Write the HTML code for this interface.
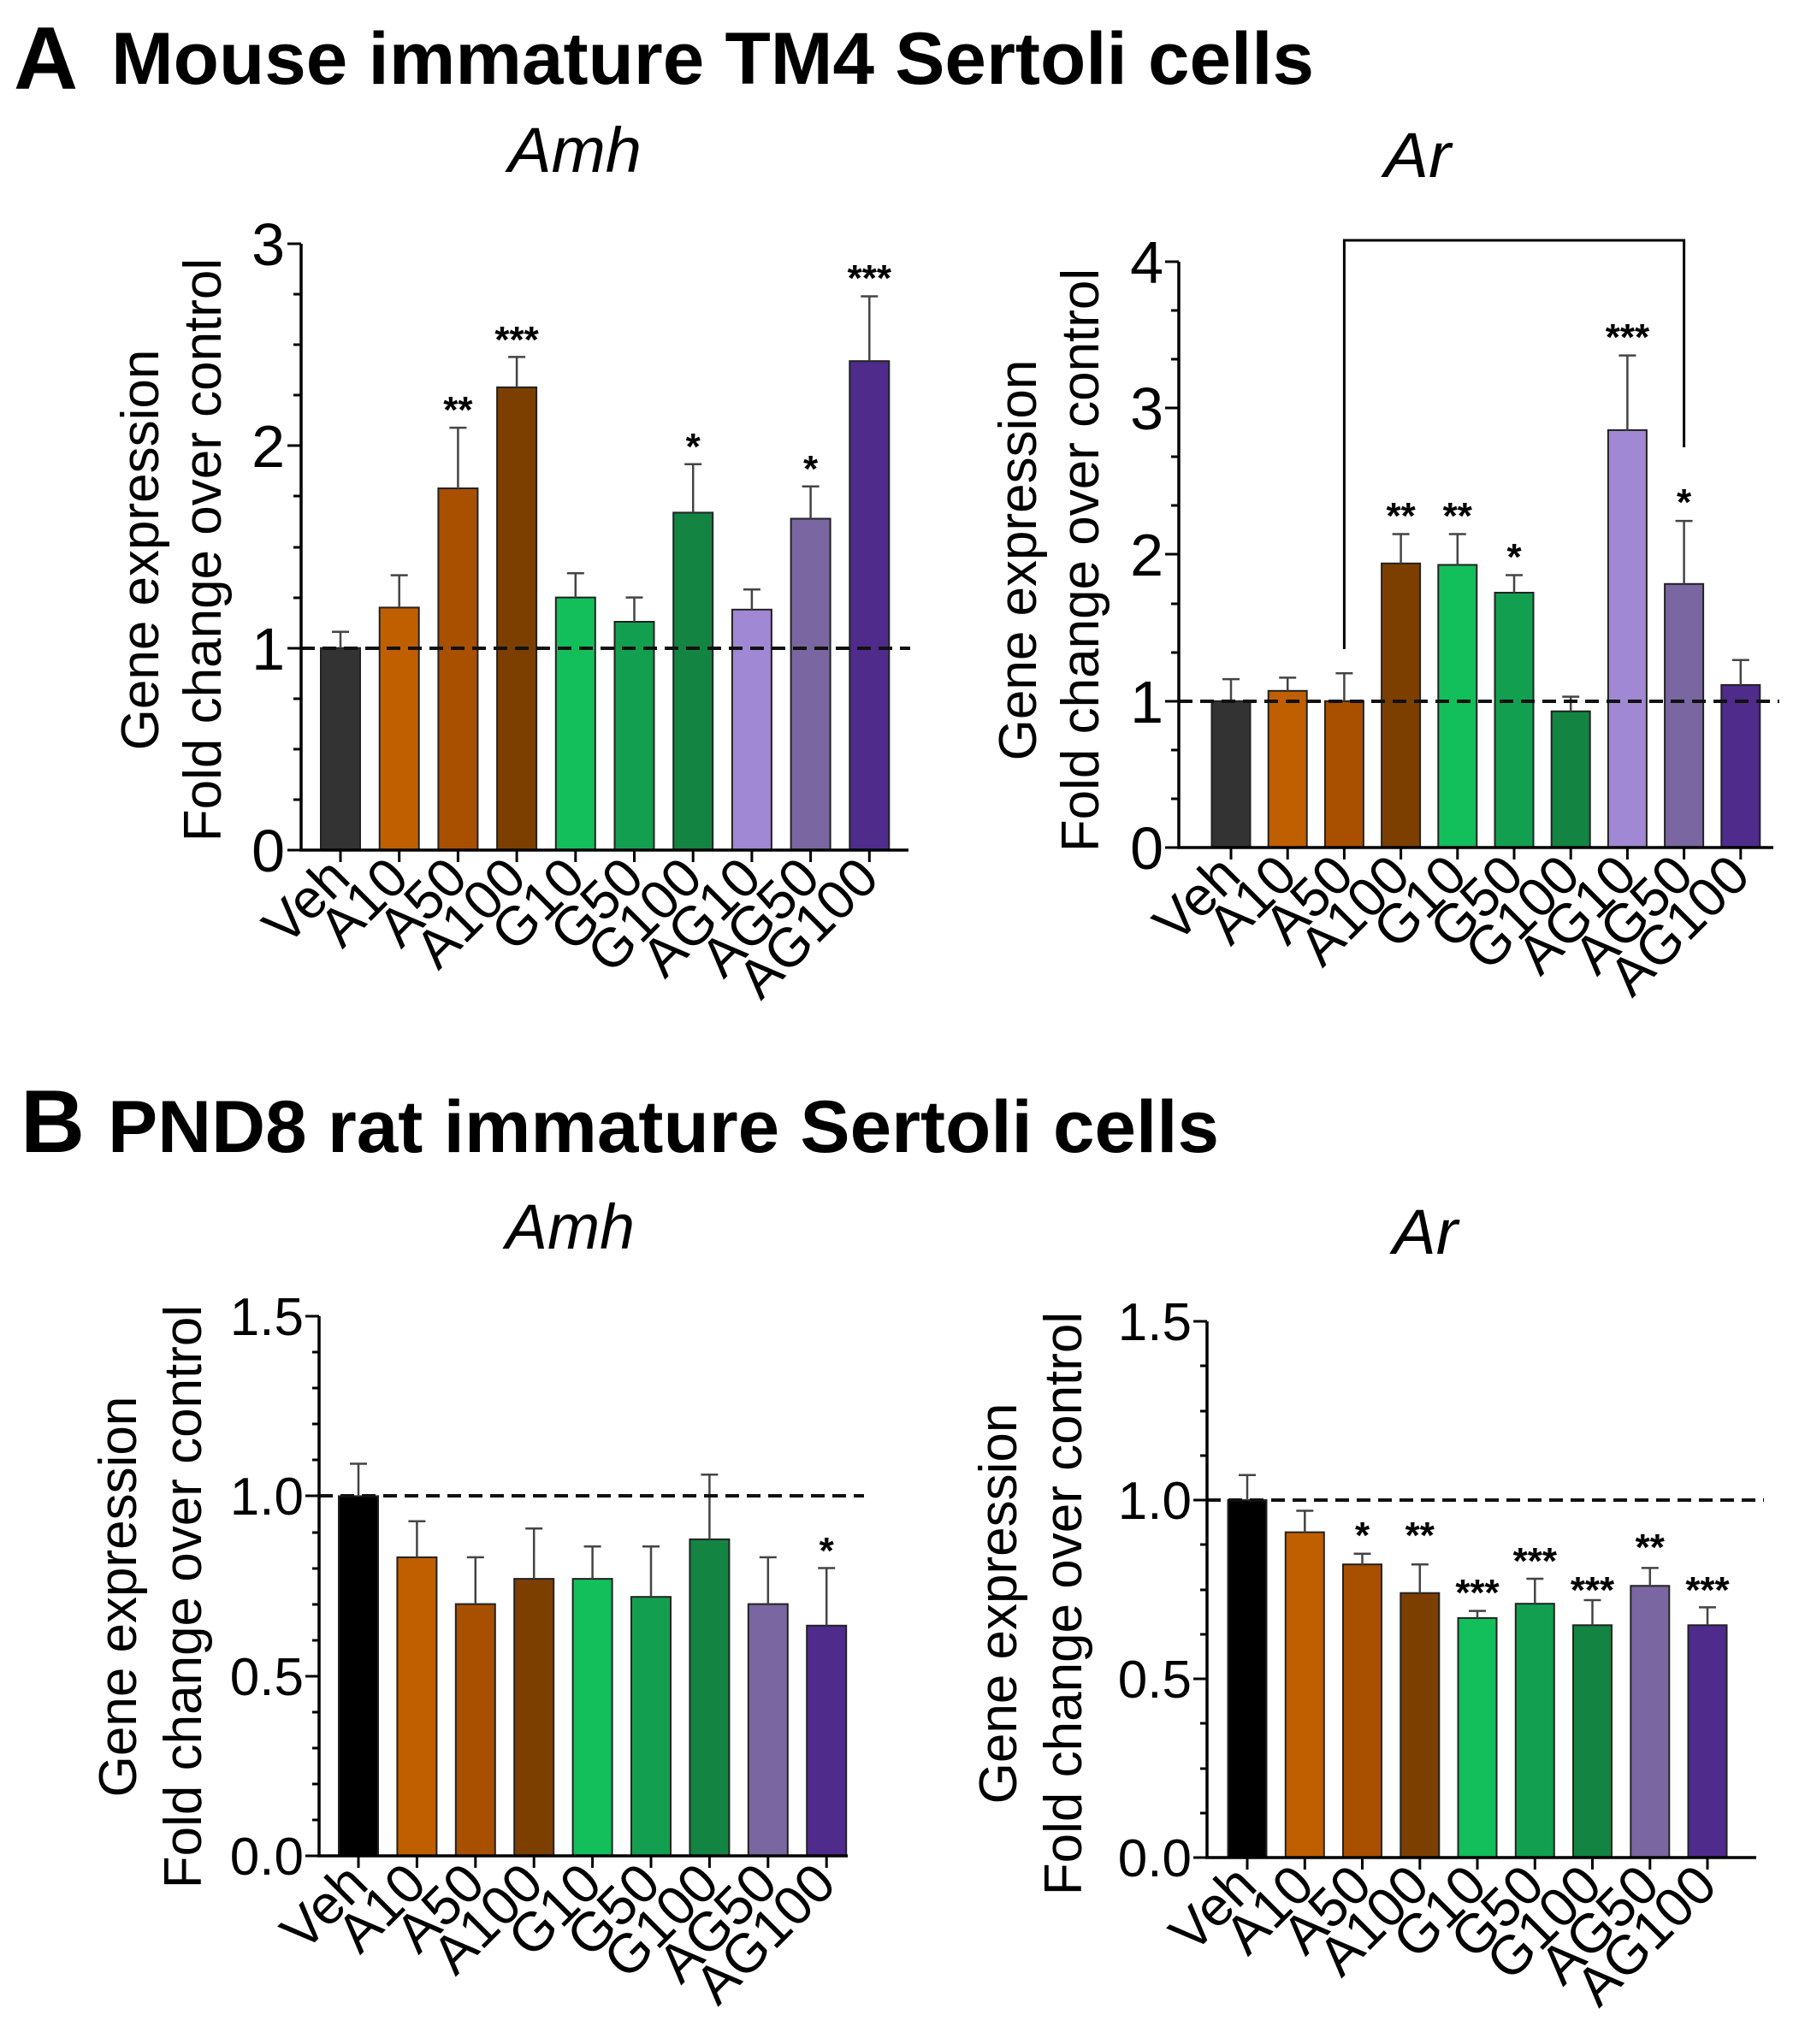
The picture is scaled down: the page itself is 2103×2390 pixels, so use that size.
<!DOCTYPE html>
<html><head><meta charset="utf-8"><style>
html,body{margin:0;padding:0;background:#fff}
svg{display:block}
text{font-family:"Liberation Sans",Arial,sans-serif;fill:#000}
.t{font-size:62px}
.ta{font-size:70px}
.ax{font-size:62px}
.xl{font-size:64px}
.st{font-size:44px;font-weight:bold}
.bar{stroke:#222;stroke-width:2}
.eb{stroke:#444;stroke-width:2.5;fill:none}
.axl{stroke:#000;stroke-width:3.5;fill:none}
.tk{stroke:#000;stroke-width:3}
.dash{stroke:#111;stroke-width:4;stroke-dasharray:16 9}
</style></head><body>
<svg width="2103" height="2390" viewBox="0 0 2103 2390" xmlns="http://www.w3.org/2000/svg">
<text x="16" y="104" style="font-size:104px;font-weight:bold">A</text>
<text x="130" y="98" style="font-size:86px;font-weight:bold" textLength="1406" lengthAdjust="spacingAndGlyphs">Mouse immature TM4 Sertoli cells</text>
<text x="24" y="1347" style="font-size:104px;font-weight:bold">B</text>
<text x="126" y="1347" style="font-size:86px;font-weight:bold" textLength="1299" lengthAdjust="spacingAndGlyphs">PND8 rat immature Sertoli cells</text>
<text x="594" y="201" style="font-size:74px;font-style:italic" textLength="156" lengthAdjust="spacingAndGlyphs">Amh</text>
<text x="1618" y="207" style="font-size:74px;font-style:italic" textLength="78" lengthAdjust="spacingAndGlyphs">Ar</text>
<text x="591" y="1460" style="font-size:74px;font-style:italic" textLength="151" lengthAdjust="spacingAndGlyphs">Amh</text>
<text x="1628" y="1466" style="font-size:74px;font-style:italic" textLength="76" lengthAdjust="spacingAndGlyphs">Ar</text>

<!-- ============ Panel A Amh ============ -->
<g>
<text class="ax" text-anchor="middle" transform="translate(185,643) rotate(-90)">Gene expression</text>
<text class="ax" text-anchor="middle" transform="translate(258,643) rotate(-90)">Fold change over control</text>
<text class="ta" text-anchor="end" x="333" y="1019">0</text>
<text class="ta" text-anchor="end" x="333" y="783">1</text>
<text class="ta" text-anchor="end" x="333" y="546">2</text>
<text class="ta" text-anchor="end" x="333" y="310">3</text>
<path class="tk" d="M336 994H352M336 758H352M336 521H352M336 285H352M343 935H352M343 876H352M343 817H352M343 699H352M343 640H352M343 580H352M343 462H352M343 403H352M343 344H352"/>
<rect class="bar" x="375" y="757.7" width="46" height="236.3" fill="#333333"/>
<rect class="bar" x="443.7" y="710.4" width="46" height="283.6" fill="#c05f00"/>
<rect class="bar" x="512.4" y="571" width="46" height="423" fill="#a85000"/>
<rect class="bar" x="581.1" y="452.9" width="46" height="541.1" fill="#7d3f00"/>
<rect class="bar" x="649.8" y="698.6" width="46" height="295.4" fill="#13bf5b"/>
<rect class="bar" x="718.5" y="727" width="46" height="267" fill="#12a050"/>
<rect class="bar" x="787.2" y="599.4" width="46" height="394.6" fill="#138442"/>
<rect class="bar" x="855.9" y="712.8" width="46" height="281.2" fill="#a088d4"/>
<rect class="bar" x="924.6" y="606.5" width="46" height="387.5" fill="#7a66a0"/>
<rect class="bar" x="993.3" y="422.2" width="46" height="571.8" fill="#4f2b8c"/>
<path class="eb" d="M398 757.7V738.8M388 738.8H408 M466.7 710.4V672.6M456.7 672.6H476.7 M535.4 571V500.1M525.4 500.1H545.4 M604.1 452.9V417.4M594.1 417.4H614.1 M672.8 698.6V670.3M662.8 670.3H682.8 M741.5 727V698.6M731.5 698.6H751.5 M810.2 599.4V542.7M800.2 542.7H820.2 M878.9 712.8V689.2M868.9 689.2H888.9 M947.6 606.5V568.7M937.6 568.7H957.6 M1016.3 422.2V346.5M1006.3 346.5H1026.3"/>
<line class="dash" x1="352" y1="758" x2="1064" y2="758"/>
<path class="axl" d="M352 285V994H1062"/>
<path class="tk" d="M398 994V1008M466.7 994V1008M535.4 994V1008M604.1 994V1008M672.8 994V1008M741.5 994V1008M810.2 994V1008M878.9 994V1008M947.6 994V1008M1016.3 994V1008"/>
<text class="st" text-anchor="middle" x="535.4" y="494">**</text>
<text class="st" text-anchor="middle" x="604.1" y="412">***</text>
<text class="st" text-anchor="middle" x="810.2" y="537">*</text>
<text class="st" text-anchor="middle" x="947.6" y="563">*</text>
<text class="st" text-anchor="middle" x="1016.3" y="340">***</text>
<text class="xl" text-anchor="end" transform="translate(412,1030) rotate(-45)">Veh</text>
<text class="xl" text-anchor="end" transform="translate(480.7,1030) rotate(-45)">A10</text>
<text class="xl" text-anchor="end" transform="translate(549.4,1030) rotate(-45)">A50</text>
<text class="xl" text-anchor="end" transform="translate(618.1,1030) rotate(-45)">A100</text>
<text class="xl" text-anchor="end" transform="translate(686.8,1030) rotate(-45)">G10</text>
<text class="xl" text-anchor="end" transform="translate(755.5,1030) rotate(-45)">G50</text>
<text class="xl" text-anchor="end" transform="translate(824.2,1030) rotate(-45)">G100</text>
<text class="xl" text-anchor="end" transform="translate(892.9,1030) rotate(-45)">AG10</text>
<text class="xl" text-anchor="end" transform="translate(961.6,1030) rotate(-45)">AG50</text>
<text class="xl" text-anchor="end" transform="translate(1030.3,1030) rotate(-45)">AG100</text>
</g>

<!-- ============ Panel A Ar ============ -->
<g>
<text class="ax" text-anchor="middle" transform="translate(1211,655) rotate(-90)">Gene expression</text>
<text class="ax" text-anchor="middle" transform="translate(1284,655) rotate(-90)">Fold change over control</text>
<text class="ta" text-anchor="end" x="1360" y="1016">0</text>
<text class="ta" text-anchor="end" x="1360" y="845">1</text>
<text class="ta" text-anchor="end" x="1360" y="673">2</text>
<text class="ta" text-anchor="end" x="1360" y="502">3</text>
<text class="ta" text-anchor="end" x="1360" y="331">4</text>
<path class="tk" d="M1362 991H1378M1362 820H1378M1362 648H1378M1362 477H1378M1362 306H1378M1369 934H1378M1369 877H1378M1369 763H1378M1369 706H1378M1369 591H1378M1369 534H1378M1369 420H1378M1369 363H1378"/>
<rect class="bar" x="1416.5" y="819.8" width="45" height="171.2" fill="#333333"/>
<rect class="bar" x="1482.7" y="807.8" width="45" height="183.2" fill="#c05f00"/>
<rect class="bar" x="1548.9" y="819.8" width="45" height="171.2" fill="#a85000"/>
<rect class="bar" x="1615.1" y="658.8" width="45" height="332.2" fill="#7d3f00"/>
<rect class="bar" x="1681.3" y="660.5" width="45" height="330.5" fill="#13bf5b"/>
<rect class="bar" x="1747.5" y="693" width="45" height="298" fill="#12a050"/>
<rect class="bar" x="1813.7" y="831.7" width="45" height="159.3" fill="#138442"/>
<rect class="bar" x="1879.9" y="502.9" width="45" height="488.1" fill="#a088d4"/>
<rect class="bar" x="1946.1" y="682.8" width="45" height="308.2" fill="#7a66a0"/>
<rect class="bar" x="2012.3" y="800.9" width="45" height="190.1" fill="#4f2b8c"/>
<path class="eb" d="M1439 819.8V794.1M1429 794.1H1449 M1505.2 807.8V792.4M1495.2 792.4H1515.2 M1571.4 819.8V787.2M1561.4 787.2H1581.4 M1637.6 658.8V624.5M1627.6 624.5H1647.6 M1703.8 660.5V624.5M1693.8 624.5H1713.8 M1770 693V672.5M1760 672.5H1780 M1836.2 831.7V814.6M1826.2 814.6H1846.2 M1902.4 502.9V415.6M1892.4 415.6H1912.4 M1968.6 682.8V609.1M1958.6 609.1H1978.6 M2034.8 800.9V771.8M2024.8 771.8H2044.8"/>
<line class="dash" x1="1378" y1="820" x2="2080" y2="820"/>
<path class="axl" d="M1378 306V991H2073"/>
<path class="tk" d="M1439 991V1005M1505.2 991V1005M1571.4 991V1005M1637.6 991V1005M1703.8 991V1005M1770 991V1005M1836.2 991V1005M1902.4 991V1005M1968.6 991V1005M2034.8 991V1005"/>
<path d="M1571.4 759V281H1968.6V523" stroke="#000" stroke-width="3" fill="none"/>
<text class="st" text-anchor="middle" x="1637.6" y="618">**</text>
<text class="st" text-anchor="middle" x="1703.8" y="618">**</text>
<text class="st" text-anchor="middle" x="1770" y="666">*</text>
<text class="st" text-anchor="middle" x="1902.4" y="409">***</text>
<text class="st" text-anchor="middle" x="1968.6" y="602">*</text>
<text class="xl" text-anchor="end" transform="translate(1453,1027) rotate(-45)">Veh</text>
<text class="xl" text-anchor="end" transform="translate(1519.2,1027) rotate(-45)">A10</text>
<text class="xl" text-anchor="end" transform="translate(1585.4,1027) rotate(-45)">A50</text>
<text class="xl" text-anchor="end" transform="translate(1651.6,1027) rotate(-45)">A100</text>
<text class="xl" text-anchor="end" transform="translate(1717.8,1027) rotate(-45)">G10</text>
<text class="xl" text-anchor="end" transform="translate(1784,1027) rotate(-45)">G50</text>
<text class="xl" text-anchor="end" transform="translate(1850.2,1027) rotate(-45)">G100</text>
<text class="xl" text-anchor="end" transform="translate(1916.4,1027) rotate(-45)">AG10</text>
<text class="xl" text-anchor="end" transform="translate(1982.6,1027) rotate(-45)">AG50</text>
<text class="xl" text-anchor="end" transform="translate(2048.8,1027) rotate(-45)">AG100</text>
</g>

<!-- ============ Panel B Amh ============ -->
<g>
<text class="ax" text-anchor="middle" transform="translate(159,1867) rotate(-90)">Gene expression</text>
<text class="ax" text-anchor="middle" transform="translate(235,1867) rotate(-90)">Fold change over control</text>
<text class="t" text-anchor="end" x="355" y="2192">0.0</text>
<text class="t" text-anchor="end" x="355" y="1982">0.5</text>
<text class="t" text-anchor="end" x="355" y="1771">1.0</text>
<text class="t" text-anchor="end" x="355" y="1561">1.5</text>
<path class="tk" d="M357 2170H373M357 1960H373M357 1749H373M357 1539H373M365 2128H373M365 2086H373M365 2044H373M365 2002H373M365 1918H373M365 1876H373M365 1834H373M365 1792H373M365 1707H373M365 1665H373M365 1623H373M365 1581H373"/>
<rect class="bar" x="396" y="1749.4" width="46" height="420.6" fill="#000000"/>
<rect class="bar" x="464.4" y="1820.9" width="46" height="349.1" fill="#c05f00"/>
<rect class="bar" x="532.8" y="1875.6" width="46" height="294.4" fill="#a85000"/>
<rect class="bar" x="601.2" y="1846.1" width="46" height="323.9" fill="#7d3f00"/>
<rect class="bar" x="669.6" y="1846.1" width="46" height="323.9" fill="#13bf5b"/>
<rect class="bar" x="738" y="1867.2" width="46" height="302.8" fill="#12a050"/>
<rect class="bar" x="806.4" y="1799.9" width="46" height="370.1" fill="#138442"/>
<rect class="bar" x="874.8" y="1875.6" width="46" height="294.4" fill="#7a66a0"/>
<rect class="bar" x="943.2" y="1900.8" width="46" height="269.2" fill="#4f2b8c"/>
<path class="eb" d="M419 1749.4V1711.5M409 1711.5H429 M487.4 1820.9V1778.8M477.4 1778.8H497.4 M555.8 1875.6V1820.9M545.8 1820.9H565.8 M624.2 1846.1V1787.3M614.2 1787.3H634.2 M692.6 1846.1V1808.3M682.6 1808.3H702.6 M761 1867.2V1808.3M751 1808.3H771 M829.4 1799.9V1724.2M819.4 1724.2H839.4 M897.8 1875.6V1820.9M887.8 1820.9H907.8 M966.2 1900.8V1833.5M956.2 1833.5H976.2"/>
<line class="dash" x1="373" y1="1749" x2="1010" y2="1749"/>
<path class="axl" d="M373 1539V2170H991"/>
<path class="tk" d="M419 2170V2184M487.4 2170V2184M555.8 2170V2184M624.2 2170V2184M692.6 2170V2184M761 2170V2184M829.4 2170V2184M897.8 2170V2184M966.2 2170V2184"/>
<text class="st" text-anchor="middle" x="966.2" y="1828">*</text>
<text class="xl" text-anchor="end" transform="translate(433,2206) rotate(-45)">Veh</text>
<text class="xl" text-anchor="end" transform="translate(501.4,2206) rotate(-45)">A10</text>
<text class="xl" text-anchor="end" transform="translate(569.8,2206) rotate(-45)">A50</text>
<text class="xl" text-anchor="end" transform="translate(638.2,2206) rotate(-45)">A100</text>
<text class="xl" text-anchor="end" transform="translate(706.6,2206) rotate(-45)">G10</text>
<text class="xl" text-anchor="end" transform="translate(775,2206) rotate(-45)">G50</text>
<text class="xl" text-anchor="end" transform="translate(843.4,2206) rotate(-45)">G100</text>
<text class="xl" text-anchor="end" transform="translate(911.8,2206) rotate(-45)">AG50</text>
<text class="xl" text-anchor="end" transform="translate(980.2,2206) rotate(-45)">AG100</text>
</g>

<!-- ============ Panel B Ar ============ -->
<g>
<text class="ax" text-anchor="middle" transform="translate(1188,1875) rotate(-90)">Gene expression</text>
<text class="ax" text-anchor="middle" transform="translate(1264,1875) rotate(-90)">Fold change over control</text>
<text class="t" text-anchor="end" x="1393" y="2194">0.0</text>
<text class="t" text-anchor="end" x="1393" y="1985">0.5</text>
<text class="t" text-anchor="end" x="1393" y="1776">1.0</text>
<text class="t" text-anchor="end" x="1393" y="1567">1.5</text>
<path class="tk" d="M1395 2172H1411M1395 1963H1411M1395 1754H1411M1395 1545H1411M1403 2120H1411M1403 2068H1411M1403 2015H1411M1403 1911H1411M1403 1859H1411M1403 1806H1411M1403 1702H1411M1403 1650H1411M1403 1597H1411"/>
<rect class="bar" x="1435.5" y="1754" width="45" height="418" fill="#000000"/>
<rect class="bar" x="1502.8" y="1791.6" width="45" height="380.4" fill="#c05f00"/>
<rect class="bar" x="1570" y="1829.2" width="45" height="342.8" fill="#a85000"/>
<rect class="bar" x="1637.3" y="1862.7" width="45" height="309.3" fill="#7d3f00"/>
<rect class="bar" x="1704.5" y="1891.9" width="45" height="280.1" fill="#13bf5b"/>
<rect class="bar" x="1771.8" y="1875.2" width="45" height="296.8" fill="#12a050"/>
<rect class="bar" x="1839" y="1900.3" width="45" height="271.7" fill="#138442"/>
<rect class="bar" x="1906.3" y="1854.3" width="45" height="317.7" fill="#7a66a0"/>
<rect class="bar" x="1973.5" y="1900.3" width="45" height="271.7" fill="#4f2b8c"/>
<path class="eb" d="M1458 1754V1724.7M1448 1724.7H1468 M1525.3 1791.6V1766.5M1515.3 1766.5H1535.3 M1592.5 1829.2V1816.7M1582.5 1816.7H1602.5 M1659.8 1862.7V1829.2M1649.8 1829.2H1669.8 M1727 1891.9V1883.6M1717 1883.6H1737 M1794.3 1875.2V1846M1784.3 1846H1804.3 M1861.5 1900.3V1871M1851.5 1871H1871.5 M1928.8 1854.3V1833.4M1918.8 1833.4H1938.8 M1996 1900.3V1879.4M1986 1879.4H2006"/>
<line class="dash" x1="1411" y1="1754" x2="2062" y2="1754"/>
<path class="axl" d="M1411 1545V2172H2053"/>
<path class="tk" d="M1458 2172V2186M1525.3 2172V2186M1592.5 2172V2186M1659.8 2172V2186M1727 2172V2186M1794.3 2172V2186M1861.5 2172V2186M1928.8 2172V2186M1996 2172V2186"/>
<text class="st" text-anchor="middle" x="1592.5" y="1810">*</text>
<text class="st" text-anchor="middle" x="1659.8" y="1810">**</text>
<text class="st" text-anchor="middle" x="1727" y="1877">***</text>
<text class="st" text-anchor="middle" x="1794.3" y="1840">***</text>
<text class="st" text-anchor="middle" x="1861.5" y="1874">***</text>
<text class="st" text-anchor="middle" x="1928.8" y="1824">**</text>
<text class="st" text-anchor="middle" x="1996" y="1874">***</text>
<text class="xl" text-anchor="end" transform="translate(1472,2208) rotate(-45)">Veh</text>
<text class="xl" text-anchor="end" transform="translate(1539.3,2208) rotate(-45)">A10</text>
<text class="xl" text-anchor="end" transform="translate(1606.5,2208) rotate(-45)">A50</text>
<text class="xl" text-anchor="end" transform="translate(1673.8,2208) rotate(-45)">A100</text>
<text class="xl" text-anchor="end" transform="translate(1741,2208) rotate(-45)">G10</text>
<text class="xl" text-anchor="end" transform="translate(1808.3,2208) rotate(-45)">G50</text>
<text class="xl" text-anchor="end" transform="translate(1875.5,2208) rotate(-45)">G100</text>
<text class="xl" text-anchor="end" transform="translate(1942.8,2208) rotate(-45)">AG50</text>
<text class="xl" text-anchor="end" transform="translate(2010,2208) rotate(-45)">AG100</text>
</g>
</svg>
</body></html>
